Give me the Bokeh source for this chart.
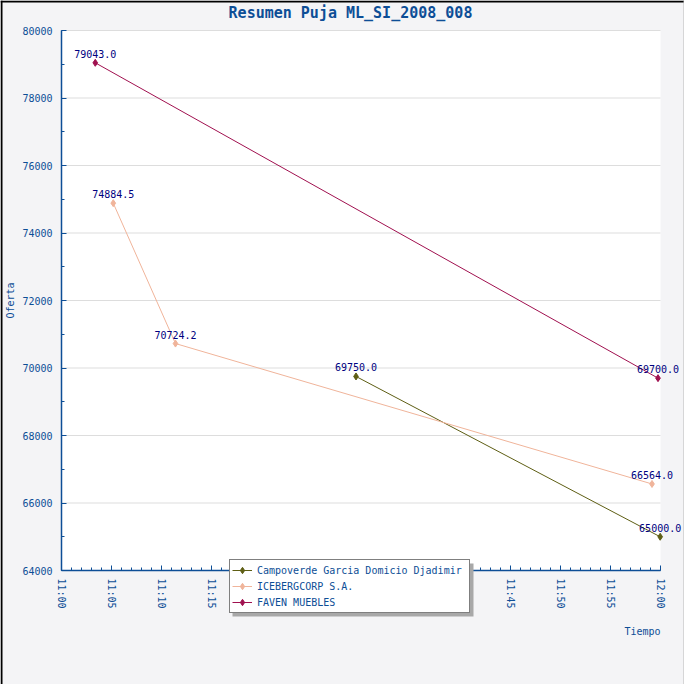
import pandas as pd
from bokeh.plotting import figure
from bokeh.models import (FixedTicker, DatetimeTickFormatter, Range1d, Label, Legend,
                          LegendItem, BoxAnnotation, NumeralTickFormatter, ColumnDataSource)
from bokeh.embed import file_html
from bokeh.resources import INLINE
from bokeh.core.properties import value

# ---------------- data ----------------
TITLE = "Resumen Puja ML_SI_2008_008"
DAY = "2008-01-01 "
series_names = ["Campoverde Garcia Domicio Djadimir", "ICEBERGCORP S.A.", "FAVEN MUEBLES"]
campoverde_times = ["11:29:30", "11:59:58"]
campoverde_values = [69750.0, 65000.0]
iceberg_times = ["11:05:11", "11:11:25", "11:59:09"]
iceberg_values = [74884.5, 70724.2, 66564.0]
faven_times = ["11:03:23", "11:59:45"]
faven_values = [79043.0, 69700.0]
series_colors = ["#5E5E14", "#F0B49A", "#A0104F"]
x_tick_labels = ["11:00", "11:05", "11:10", "11:15", "11:20", "11:25", "11:30",
                 "11:35", "11:40", "11:45", "11:50", "11:55", "12:00"]
y_ticks = [64000, 66000, 68000, 70000, 72000, 74000, 76000, 78000, 80000]
y_minor_ticks = list(range(64000, 80001, 1000))

# ---------------- style / layout ----------------
BLUE = "#0D4E96"
NAVY = "#000080"
MONO = "DejaVu Sans Mono"
W, H = 684, 684
PL, PR, PT, PB = 61, 24, 30, 114          # plot-area margins inside the canvas (px)

def to_dt(ts):
    return pd.to_datetime([DAY + t for t in ts])

def to_ms(ts):
    return [t.value / 1e6 for t in to_dt(ts)]

x_ticks_ms = to_ms(x_tick_labels)
x_minor_ms = [x_ticks_ms[0] + i * 60000 for i in range(61)]
x0, x1 = x_ticks_ms[0], x_ticks_ms[-1]
y0, y1 = y_ticks[0], y_ticks[-1]
fw, fh = W - PL - PR, H - PT - PB
xs = (x1 - x0) / fw
ys = (y1 - y0) / fh

p = figure(width=W, height=H, x_axis_type="datetime", output_backend="svg",
           toolbar_location=None, min_border=0)
p.x_range = Range1d(x0 - PL * xs, x1 + PR * xs)
p.y_range = Range1d(y0 - PB * ys, y1 + PT * ys)
p.background_fill_color = "#F4F4F6"
p.border_fill_color = "#F4F4F6"
p.outline_line_color = None

# white plot area
p.add_layout(BoxAnnotation(left=x0, right=x1, bottom=y0, top=y1, fill_color="white",
                           fill_alpha=1.0, line_color=None, level="image"))

# axes
for ax in (p.xaxis[0], p.yaxis[0]):
    ax.axis_line_color = BLUE
    ax.axis_line_width = 1.5
    ax.major_tick_line_color = BLUE
    ax.minor_tick_line_color = BLUE
    ax.major_tick_in = 5
    ax.major_tick_out = 0
    ax.minor_tick_in = 3
    ax.minor_tick_out = 0
    ax.major_label_text_color = BLUE
    ax.major_label_text_font = MONO
    ax.major_label_text_font_size = "10px"
    ax.axis_label_text_color = BLUE
    ax.axis_label_text_font = MONO
    ax.axis_label_text_font_size = "10px"
    ax.axis_label_text_font_style = "normal"

p.xaxis.fixed_location = y0
p.xaxis.bounds = (x0, x1)
p.xaxis.ticker = FixedTicker(ticks=x_ticks_ms, minor_ticks=x_minor_ms)
p.xaxis.formatter = DatetimeTickFormatter(minutes="%H:%M", hours="%H:%M", hourmin="%H:%M")
p.xaxis.major_label_orientation = "vertical"
p.xaxis.major_label_standoff = 8

p.yaxis.fixed_location = x0
p.yaxis.bounds = (y0, y1)
p.yaxis.ticker = FixedTicker(ticks=y_ticks, minor_ticks=y_minor_ticks)
p.yaxis.formatter = NumeralTickFormatter(format="0")
p.yaxis.major_label_standoff = 9
p.yaxis.axis_label = "Oferta"
p.yaxis.axis_label_standoff = 3

# horizontal grid lines limited to the plot area
p.xgrid.grid_line_color = None
p.ygrid.grid_line_color = None
p.segment(x0=[x0] * len(y_ticks), y0=y_ticks, x1=[x1] * len(y_ticks), y1=y_ticks,
          line_color="#DDDDDD", line_width=1)

# series
items = []
all_series = [(campoverde_times, campoverde_values), (iceberg_times, iceberg_values),
              (faven_times, faven_values)]
for name, (ts, vals), col in zip(series_names, all_series, series_colors):
    src = ColumnDataSource(dict(x=to_dt(ts), y=vals))
    ln = p.line("x", "y", source=src, line_color=col, line_width=1)
    mk = p.scatter("x", "y", source=src, marker="diamond", size=7, fill_color=col,
                   line_color=col)
    items.append(LegendItem(label=name, renderers=[ln, mk]))
for (ts, vals) in all_series:
    src = ColumnDataSource(dict(x=to_dt(ts), y=vals, lbl=[f"{v:.1f}" for v in vals]))
    p.text("x", "y", text="lbl", source=src, text_color=NAVY, text_font=value(MONO),
           text_font_size="10px", text_align="center", text_baseline="bottom", y_offset=-5)

# title
p.add_layout(Label(x=350, y=H - 12, x_units="screen", y_units="screen", text=TITLE,
                   text_font=MONO, text_font_size="15px", text_font_style="bold",
                   text_color=BLUE, text_align="center", text_baseline="middle"))
# x axis title
p.add_layout(Label(x=W - PR, y=H - 631, x_units="screen", y_units="screen", text="Tiempo",
                   text_font=MONO, text_font_size="10px", text_color=BLUE,
                   text_align="right", text_baseline="middle"))

# legend shadow + legend
LX, LY, LW, LH = 229, H - 613, 241, 53
p.add_layout(BoxAnnotation(left=LX + 3, right=LX + 3 + LW, bottom=LY - 3, top=LY - 3 + LH,
                           left_units="screen", right_units="screen",
                           bottom_units="screen", top_units="screen",
                           fill_color="#A8A8A8", fill_alpha=1.0, line_color=None))
legend = Legend(items=items, location=(LX, LY), padding=2, spacing=0, margin=0,
                label_height=16, glyph_height=16, glyph_width=20, label_standoff=5,
                label_width=210,
                label_text_font=MONO, label_text_font_size="10px", label_text_color=BLUE,
                border_line_color="black", border_line_width=1,
                background_fill_color="white", background_fill_alpha=1.0)
p.add_layout(legend)

# outer frame edges (top and left dark, right grey)
def edge(l, r, b, t, col):
    p.add_layout(BoxAnnotation(left=l, right=r, bottom=b, top=t,
                               left_units="screen", right_units="screen",
                               bottom_units="screen", top_units="screen",
                               fill_color=col, fill_alpha=1.0, line_color=None,
                               level="overlay"))

edge(0, W, H - 2, H, "black")
edge(0, 2, 0, H, "black")
edge(W - 1, W, 0, H, "#B8B8B8")

open("out.html", "w").write(file_html(p, INLINE))
